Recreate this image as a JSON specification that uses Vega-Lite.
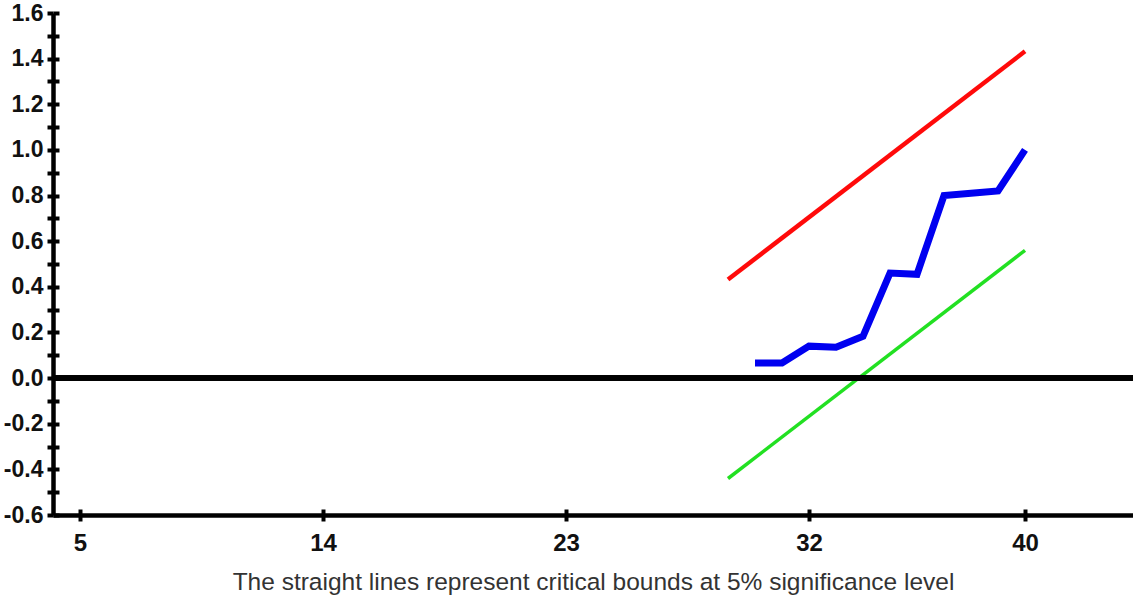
{
  "$schema": "https://vega.github.io/schema/vega-lite/v6.json",
  "width": 1080,
  "height": 502,
  "autosize": "none",
  "padding": {"left": 53, "top": 13, "right": 0, "bottom": 86},
  "background": "white",
  "config": {
    "view": {"stroke": null},
    "axis": {"grid": false, "labelFont": "Liberation Sans", "titleFont": "Liberation Sans"}
  },
  "data": {
    "values": [
      {"series": "upper", "t": 29, "v": 0.432},
      {"series": "upper", "t": 40, "v": 1.432},
      {"series": "lower", "t": 29, "v": -0.44},
      {"series": "lower", "t": 40, "v": 0.56},
      {"series": "cusum", "t": 30, "v": 0.066},
      {"series": "cusum", "t": 31, "v": 0.066},
      {"series": "cusum", "t": 32, "v": 0.14},
      {"series": "cusum", "t": 33, "v": 0.135},
      {"series": "cusum", "t": 34, "v": 0.183},
      {"series": "cusum", "t": 35, "v": 0.46},
      {"series": "cusum", "t": 36, "v": 0.455},
      {"series": "cusum", "t": 37, "v": 0.8},
      {"series": "cusum", "t": 38, "v": 0.81},
      {"series": "cusum", "t": 39, "v": 0.82},
      {"series": "cusum", "t": 40, "v": 1.0}
    ]
  },
  "resolve": {"axis": {"x": "independent", "y": "independent"}},
  "layer": [
    {
      "transform": [{"filter": "datum.series == 'upper'"}],
      "mark": {"type": "line", "color": "#ff0a0a", "strokeWidth": 4.5},
      "encoding": {
        "x": {
          "field": "t", "type": "quantitative",
          "scale": {"domain": [4, 44], "nice": false, "zero": false},
          "axis": {
            "orient": "bottom",
            "values": [5, 14, 23, 32, 40],
            "domainColor": "black", "domainWidth": 4.5,
            "tickColor": "black", "tickWidth": 4, "tickSize": 6,
            "labelFontSize": 24, "labelFontWeight": "bold", "labelColor": "#111",
            "labelPadding": 10, "labelFlush": false, "labelOverlap": false,
            "title": "The straight lines represent critical bounds at 5% significance level",
            "titleFontSize": 24.5, "titleFontWeight": "normal", "titleColor": "#333",
            "titlePadding": 15
          }
        },
        "y": {
          "field": "v", "type": "quantitative",
          "scale": {"domain": [-0.6, 1.6], "nice": false, "zero": false},
          "axis": {
            "orient": "left",
            "values": [-0.6, -0.5, -0.4, -0.3, -0.2, -0.1, 0, 0.1, 0.2, 0.3, 0.4, 0.5, 0.6, 0.7, 0.8, 0.9, 1.0, 1.1, 1.2, 1.3, 1.4, 1.5, 1.6],
            "labelExpr": "abs(round(datum.value*10))%2==0 ? (datum.value < -0.001 ? '-' : '') + format(abs(datum.value), '.1f') : ''",
            "domainColor": "black", "domainWidth": 4.5,
            "tickColor": "black", "tickWidth": 4, "tickSize": 6,
            "labelFontSize": 23, "labelFontWeight": "bold", "labelColor": "#111",
            "labelPadding": 4, "labelOverlap": false, "labelFlush": false,
            "title": null
          }
        }
      }
    },
    {
      "transform": [{"filter": "datum.series == 'lower'"}],
      "mark": {"type": "line", "color": "#22e022", "strokeWidth": 3.5},
      "encoding": {
        "x": {"field": "t", "type": "quantitative", "scale": {"domain": [4, 44], "nice": false, "zero": false}, "axis": null},
        "y": {"field": "v", "type": "quantitative", "scale": {"domain": [-0.6, 1.6], "nice": false, "zero": false}, "axis": null}
      }
    },
    {
      "mark": {"type": "rule", "color": "black", "strokeWidth": 4.5},
      "encoding": {
        "y": {"datum": 0, "type": "quantitative", "axis": null}
      }
    },
    {
      "transform": [{"filter": "datum.series == 'cusum'"}],
      "mark": {"type": "line", "color": "#0000f0", "strokeWidth": 7},
      "encoding": {
        "x": {
          "field": "t", "type": "quantitative",
          "scale": {"domain": [4, 44], "nice": false, "zero": false},
          "axis": {
            "orient": "top", "offset": -502,
            "values": [5, 14, 23, 32, 40],
            "domain": false, "labels": false, "title": null,
            "tickColor": "black", "tickWidth": 4, "tickSize": 6
          }
        },
        "y": {
          "field": "v", "type": "quantitative",
          "scale": {"domain": [-0.6, 1.6], "nice": false, "zero": false},
          "axis": {
            "orient": "right", "offset": -1080,
            "values": [-0.6, -0.5, -0.4, -0.3, -0.2, -0.1, 0, 0.1, 0.2, 0.3, 0.4, 0.5, 0.6, 0.7, 0.8, 0.9, 1.0, 1.1, 1.2, 1.3, 1.4, 1.5, 1.6],
            "domain": false, "labels": false, "title": null,
            "tickColor": "black", "tickWidth": 4, "tickSize": 6
          }
        }
      }
    }
  ]
}
